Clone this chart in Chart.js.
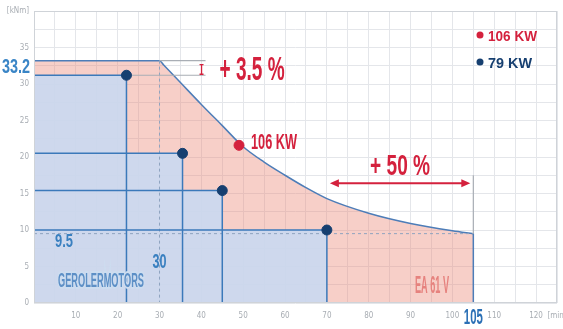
<!DOCTYPE html>
<html>
<head>
<meta charset="utf-8">
<script src="https://cdn.jsdelivr.net/npm/chart.js@4.4.1/dist/chart.umd.min.js"></script>
<style>
html, body { margin: 0; padding: 0; background: #fff; }
#wrap { width: 563px; height: 329px; }
</style>
</head>
<body>
<div id="wrap"><canvas id="myChart" width="563" height="329"></canvas></div>
<script>
// EA 61 V torque curve (106 kW)
var curveX = [0, 30, 31, 35, 40, 45, 50, 55, 60, 65, 70, 80, 90, 100, 105];
var curveY = [33.2, 33.2, 32.6, 30.2, 27.2, 24.3, 21.4, 19.3, 17.5, 15.8, 14.3, 12.3, 10.9, 9.9, 9.5];
// gerolermotors (79 kW)
var motorX = [22.1, 35.5, 45, 70];
var motorY = [31.2, 20.5, 15.4, 10];
// 106 kW marker
var markX = [49];
var markY = [21.6];
// annotation extents
var bracketX = 41;
var arrowY = 16.4;
var capTop = 17.5;
// ticks
var xTickValues = [10, 20, 30, 40, 50, 60, 70, 80, 90, 100, 110, 120, 125];
var xTickLabels = ['10', '20', '30', '40', '50', '60', '70', '80', '90', '100', '110', '120', '[min]'];
var yTickValues = [0, 5, 10, 15, 20, 25, 30, 35, 40];
var yTickLabels = ['0', '5', '10', '15', '20', '25', '30', '35', '[kNm]'];

var RED = '#d4213d';
var NAVY = '#163f70';
var BLUE = '#3b79ba';
var LINE = '#4d7db8';
var GREY = '#a9aeb5';
var BLUE_FILL = 'rgba(200,218,242,0.88)';

function pts(xs, ys) {
    return xs.map(function (x, i) { return {x: x, y: ys[i]}; });
}

var last = curveX.length - 1;

var stairs = [];
motorX.forEach(function (x, i) {
    var prev = i === 0 ? 0 : motorX[i - 1];
    stairs.push({x: prev, y: motorY[i]}, {x: x, y: motorY[i]});
});

var guides = [];
motorX.forEach(function (x, i) {
    guides.push({x: 0, y: motorY[i]}, {x: x, y: motorY[i]}, {x: x, y: 0}, {x: x, y: null});
});

var dashed = [
    {x: curveX[1], y: curveY[1]}, {x: curveX[1], y: 0}, {x: curveX[1], y: null},
    {x: 0, y: curveY[last]}, {x: curveX[last], y: curveY[last]}
];

var greyLines = [
    {x: curveX[1], y: curveY[1]}, {x: bracketX, y: curveY[1]}, {x: bracketX, y: null},
    {x: motorX[0], y: motorY[0]}, {x: bracketX, y: motorY[0]}, {x: bracketX, y: null},
    {x: curveX[last], y: curveY[last]}, {x: curveX[last], y: capTop}
];

var edge = [{x: curveX[last], y: curveY[last]}, {x: curveX[last], y: 0}];

function lineSet(data, color, width, order, extra) {
    var ds = {data: data, borderColor: color, borderWidth: width, pointRadius: 0,
              fill: false, tension: 0, spanGaps: false, order: order};
    for (var k in extra) ds[k] = extra[k];
    return ds;
}

function txt(ctx, s, x, y, size, color, w, center, knock) {
    ctx.save();
    ctx.font = 'bold ' + size + 'px "Liberation Sans", Arial, sans-serif';
    var m = ctx.measureText(s).width;
    ctx.translate(x, y);
    ctx.scale(w / m, 1);
    ctx.textBaseline = 'alphabetic';
    ctx.textAlign = 'left';
    if (knock) {
        ctx.lineWidth = 4;
        ctx.strokeStyle = knock;
        ctx.strokeText(s, center ? -m / 2 : 0, 0);
    }
    ctx.fillStyle = color;
    ctx.fillText(s, center ? -m / 2 : 0, 0);
    ctx.restore();
}

var overlay = {
    id: 'overlay',
    afterDatasetsDraw: function (chart) {
        var ctx = chart.ctx, xs = chart.scales.x, ys = chart.scales.y, a = chart.chartArea;
        function px(v) { return xs.getPixelForValue(v); }
        function py(v) { return ys.getPixelForValue(v); }

        ctx.save();
        ctx.strokeStyle = '#cfd3d8';
        ctx.lineWidth = 1;
        ctx.strokeRect(a.left + 0.5, a.top + 0.5, a.right - a.left - 1, a.bottom - a.top - 1);

        // +3.5 % bracket
        var bx = px(bracketX) - 4;
        ctx.strokeStyle = RED;
        ctx.lineWidth = 1.3;
        ctx.beginPath();
        ctx.moveTo(bx, py(curveY[1]) + 4); ctx.lineTo(bx, py(motorY[0]) - 1);
        ctx.moveTo(bx - 2, py(curveY[1]) + 4); ctx.lineTo(bx + 2, py(curveY[1]) + 4);
        ctx.moveTo(bx - 2, py(motorY[0]) - 1); ctx.lineTo(bx + 2, py(motorY[0]) - 1);
        ctx.stroke();

        // +50 % arrow
        var x1 = px(motorX[3]) + 3, x2 = px(curveX[last]) - 3, ay = py(arrowY);
        ctx.lineWidth = 2;
        ctx.beginPath();
        ctx.moveTo(x1 + 4, ay); ctx.lineTo(x2 - 4, ay);
        ctx.stroke();
        ctx.fillStyle = RED;
        ctx.beginPath();
        ctx.moveTo(x1, ay); ctx.lineTo(x1 + 9, ay - 4); ctx.lineTo(x1 + 9, ay + 4); ctx.closePath();
        ctx.moveTo(x2, ay); ctx.lineTo(x2 - 9, ay - 4); ctx.lineTo(x2 - 9, ay + 4); ctx.closePath();
        ctx.fill();

        // legend
        ctx.fillStyle = RED;
        ctx.beginPath(); ctx.arc(480, 35, 3.5, 0, Math.PI * 2); ctx.fill();
        ctx.fillStyle = NAVY;
        ctx.beginPath(); ctx.arc(480, 62, 3.5, 0, Math.PI * 2); ctx.fill();
        ctx.restore();

        txt(ctx, '106 KW', 488, 41, 15, RED, 49);
        txt(ctx, '79 KW', 488, 68, 15, NAVY, 44);

        txt(ctx, '+ 3.5 %', px(bracketX) + 14, py(motorY[0]) + 5, 33, RED, 65);
        txt(ctx, '+ 50 %', (x1 + x2) / 2, ay - 8, 30, RED, 60, true);
        txt(ctx, '106 KW', px(markX[0]) + 12, py(markY[0]) + 4, 22, RED, 46);

        txt(ctx, '33.2', 2, py(curveY[0]) + 12, 21, '#3a85c6', 28);
        txt(ctx, '105', px(curveX[last]), a.bottom + 21, 22, '#2a6fb5', 19, true);
        txt(ctx, '9.5', 55, py(curveY[last]) + 13, 19, '#3a80c0', 18);
        txt(ctx, '30', px(curveX[1]), 268, 21, '#3a80c0', 14, true);
        txt(ctx, 'GEROLERMOTORS', 58, 287, 20, '#5d8fc6', 86, false, '#cdddf0');
        txt(ctx, 'EA 61 V', 415, 293, 24, '#e6827e', 34);
    }
};

var tickFont = {family: '"Liberation Sans Narrow", "DejaVu Sans Condensed", sans-serif', size: 8};

var ctx = document.getElementById('myChart').getContext('2d');
var myChart = new Chart(ctx, {
    type: 'line',
    data: {
        datasets: [
            // 106 kW area
            lineSet(pts(curveX, curveY), LINE, 1.5, 10, {
                fill: 'origin', backgroundColor: 'rgba(236,140,125,0.42)', cubicInterpolationMode: 'monotone'
            }),
            // 79 kW area
            lineSet(stairs, 'rgba(0,0,0,0)', 0, 9, {
                fill: 'origin', backgroundColor: BLUE_FILL
            }),
            lineSet(dashed, '#8fa3bf', 1, 8, {borderDash: [3, 3]}),
            lineSet(greyLines, GREY, 1.2, 7),
            lineSet(edge, LINE, 1.5, 6),
            lineSet(guides, BLUE, 1.5, 5),
            {
                data: pts(motorX, motorY), showLine: false, order: 1,
                pointRadius: 5, pointBackgroundColor: NAVY, pointBorderColor: NAVY
            },
            {
                data: pts(markX, markY), showLine: false, order: 0,
                pointRadius: 5, pointBackgroundColor: RED, pointBorderColor: RED
            }
        ]
    },
    options: {
        responsive: false,
        animation: false,
        layout: {padding: {top: 11, right: 4, left: 0, bottom: 0}},
        plugins: {
            legend: {display: false},
            tooltip: {enabled: false}
        },
        scales: {
            x: {
                type: 'linear',
                min: 0,
                max: 125,
                afterFit: function (s) { s.height = 26; s.paddingLeft = 0; s.paddingRight = 0; },
                ticks: {
                    stepSize: 5, autoSkip: false, maxRotation: 0, padding: 8,
                    color: '#a8adb3', font: tickFont,
                    callback: function (v) {
                        var i = xTickValues.indexOf(v);
                        return i < 0 ? '' : xTickLabels[i];
                    }
                },
                grid: {color: '#e4e6ea', drawTicks: false},
                border: {display: false}
            },
            y: {
                min: 0,
                max: 40,
                afterFit: function (s) { s.width = 34; s.paddingTop = 0; s.paddingBottom = 0; },
                ticks: {
                    stepSize: 2.5, autoSkip: false, padding: 5,
                    color: '#a8adb3', font: tickFont,
                    callback: function (v) {
                        var i = yTickValues.indexOf(v);
                        return i < 0 ? '' : yTickLabels[i];
                    }
                },
                grid: {color: '#e4e6ea', drawTicks: false},
                border: {display: false}
            }
        }
    },
    plugins: [overlay]
});
</script>
</body>
</html>
